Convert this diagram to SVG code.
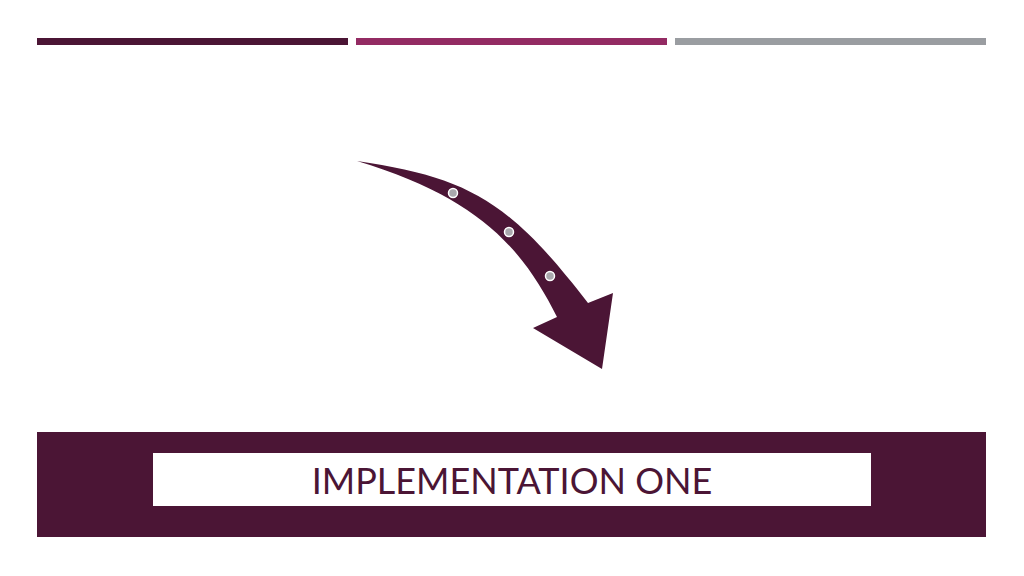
<svg xmlns="http://www.w3.org/2000/svg" width="1024" height="576" viewBox="0 0 1024 576">
<style>
.dark{fill:#4b1535}
.dot{fill:#a9a8ad;stroke:#ffffff;stroke-width:1.5}
.title{font-family:Lato,"Open Sans",sans-serif;font-size:36px;fill:#4b1535}
</style>
<rect width="1024" height="576" fill="#ffffff"/>
<g id="top-bars">
<rect x="37" y="38" width="311" height="7" fill="#4b1535"/>
<rect x="356" y="38" width="311" height="7" fill="#932b63"/>
<rect x="675" y="38" width="311" height="7" fill="#9a9da1"/>
</g>
<g id="arrow">
<path class="dark" d="M357,161 C467,177.5 508,199 588,303 L613,293 L602,369 L533,328 L557,317 C522,247 477,197 357,161 Z"/>
<circle class="dot" cx="453" cy="193" r="4.5"/>
<circle class="dot" cx="509" cy="232" r="4.5"/>
<circle class="dot" cx="550" cy="276" r="4.5"/>
</g>
<g id="title-band">
<rect class="dark" x="37" y="432" width="949" height="105"/>
<rect x="153" y="453" width="718" height="53" fill="#ffffff"/>
<text class="title" x="512" y="494" text-anchor="middle">IMPLEMENTATION ONE</text>
</g>
</svg>
